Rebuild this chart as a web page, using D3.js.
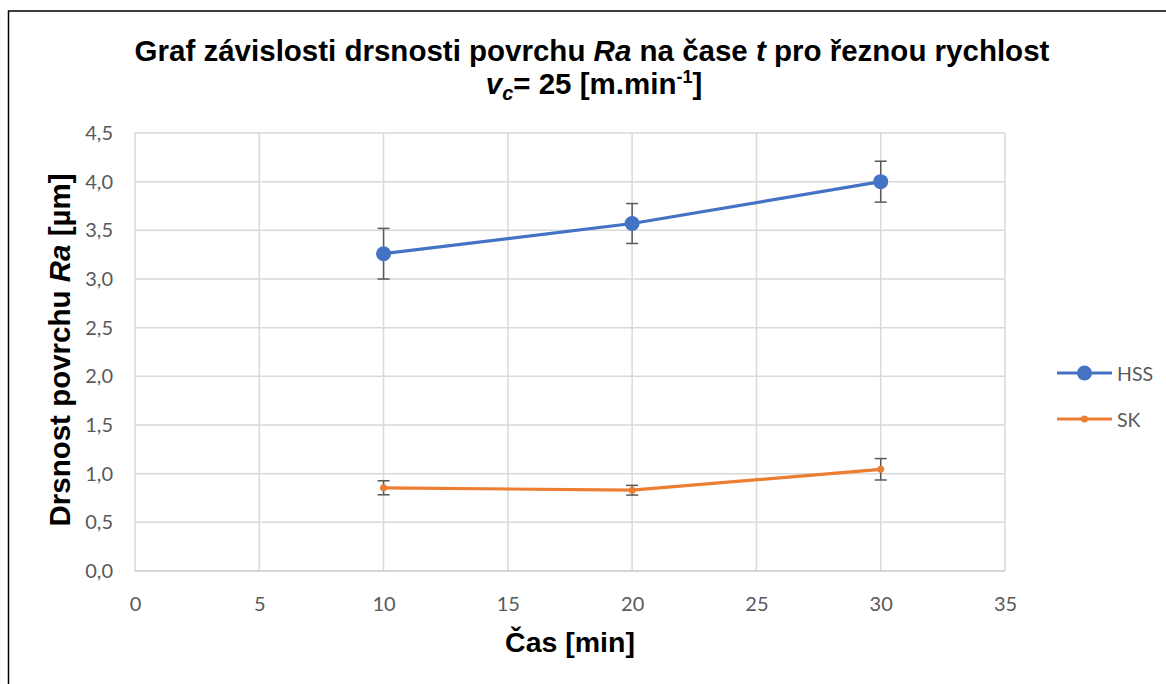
<!DOCTYPE html>
<html>
<head>
<meta charset="utf-8">
<script src="https://cdn.jsdelivr.net/npm/d3@7"></script>
<style>
  body { margin: 0; background: #fff; }
  svg { display: block; }
</style>
</head>
<body>
<div id="chart"></div>
<script>
// data
var times = [10, 20, 30]
var hss = [3.26, 3.57, 4.0]
var hssErr = [0.26, 0.205, 0.21]
var sk = [0.855, 0.83, 1.045]
var skErr = [0.072, 0.05, 0.11]
var xTicks = [0, 5, 10, 15, 20, 25, 30, 35]
var yTicks = [0, 0.5, 1, 1.5, 2, 2.5, 3, 3.5, 4, 4.5]

var W = 1166
var H = 684
var plot = { left: 135, right: 1005, top: 133, bottom: 571 }
var tickFont = 'Lato, "Open Sans", sans-serif'
var tFont = '"Liberation Sans", Arial, sans-serif'

var svg = d3.select('#chart').append('svg')
  .attr('width', W)
  .attr('height', H)

// chart frame (only top and left visible in window)
svg.append('rect')
  .attr('x', 8.5).attr('y', 11)
  .attr('width', W + 20).attr('height', H + 20)
  .attr('fill', 'none')
  .attr('stroke', '#000')
  .attr('stroke-width', 1.5)

var x = d3.scaleLinear().domain([0, 35]).range([plot.left, plot.right])
var y = d3.scaleLinear().domain([0, 4.5]).range([plot.bottom, plot.top])

var fmt = function (d) { return d3.format('.1f')(d).replace('.', ',') }

// gridlines
var grid = svg.append('g')
grid.selectAll('.vg').data(xTicks).enter().append('line')
  .attr('x1', d => x(d)).attr('x2', d => x(d))
  .attr('y1', plot.top).attr('y2', plot.bottom)
  .attr('stroke', '#d9d9d9').attr('stroke-width', 1.5)
grid.selectAll('.hg').data(yTicks).enter().append('line')
  .attr('x1', plot.left).attr('x2', plot.right)
  .attr('y1', d => y(d)).attr('y2', d => y(d))
  .attr('stroke', '#d9d9d9').attr('stroke-width', 1.5)

// axes (labels only)
var xAxis = svg.append('g')
  .attr('transform', 'translate(0,' + plot.bottom + ')')
  .call(d3.axisBottom(x).tickValues(xTicks).tickSize(0))
var yAxis = svg.append('g')
  .attr('transform', 'translate(' + plot.left + ',0)')
  .call(d3.axisLeft(y).tickValues(yTicks).tickFormat(fmt).tickSize(0).tickPadding(22))
;[xAxis, yAxis].forEach(function (a) {
  a.select('.domain').remove()
  a.selectAll('text')
    .attr('fill', '#595959')
    .style('font-family', tickFont)
    .style('font-size', '20px')
})
xAxis.selectAll('text').attr('y', 40).attr('dy', 0)
svg.append('line')
  .attr('x1', plot.left).attr('x2', plot.right)
  .attr('y1', plot.bottom).attr('y2', plot.bottom)
  .attr('stroke', '#d0d0d0').attr('stroke-width', 1.5)

// series
var series = [
  { name: 'HSS', vals: hss, err: hssErr, color: '#4472C4', r: 7.5 },
  { name: 'SK', vals: sk, err: skErr, color: '#ED7D31', r: 3.5 }
]
var line = d3.line().x(d => x(d[0])).y(d => y(d[1]))

series.forEach(function (s) {
  var pts = times.map((t, i) => [t, s.vals[i], s.err[i]])
  svg.append('path')
    .datum(pts)
    .attr('d', line)
    .attr('fill', 'none')
    .attr('stroke', s.color)
    .attr('stroke-width', 3.2)
  var eb = svg.append('g')
  pts.forEach(function (p) {
    var cx = x(p[0])
    eb.append('line')
      .attr('x1', cx).attr('x2', cx)
      .attr('y1', y(p[1] + p[2])).attr('y2', y(p[1] - p[2]))
      .attr('stroke', '#595959').attr('stroke-width', 1.5)
    ;[p[1] + p[2], p[1] - p[2]].forEach(function (v) {
      eb.append('line')
        .attr('x1', cx - 6).attr('x2', cx + 6)
        .attr('y1', y(v)).attr('y2', y(v))
        .attr('stroke', '#595959').attr('stroke-width', 1.5)
    })
  })
  svg.append('g').selectAll('circle').data(pts).enter().append('circle')
    .attr('cx', d => x(d[0])).attr('cy', d => y(d[1]))
    .attr('r', s.r)
    .attr('fill', s.color)
})

// legend
series.forEach(function (s, i) {
  var ly = 373 + i * 46
  svg.append('line')
    .attr('x1', 1057).attr('x2', 1112)
    .attr('y1', ly).attr('y2', ly)
    .attr('stroke', s.color).attr('stroke-width', 3.2)
  svg.append('circle')
    .attr('cx', 1084.5).attr('cy', ly).attr('r', s.r)
    .attr('fill', s.color)
  svg.append('text')
    .attr('x', 1117).attr('y', ly + 8)
    .attr('fill', '#595959')
    .style('font-family', tickFont)
    .style('font-size', '19.5px')
    .text(s.name)
})

// title
var t1 = svg.append('text')
  .attr('x', 592).attr('y', 61)
  .attr('text-anchor', 'middle')
  .style('font-family', tFont).style('font-weight', 'bold').style('font-size', '29.5px')
t1.append('tspan').text('Graf závislosti drsnosti povrchu ')
t1.append('tspan').style('font-style', 'italic').text('Ra')
t1.append('tspan').text(' na čase ')
t1.append('tspan').style('font-style', 'italic').text('t')
t1.append('tspan').text(' pro řeznou rychlost')
var t2 = svg.append('text')
  .attr('x', 594).attr('y', 94)
  .attr('text-anchor', 'middle')
  .style('font-family', tFont).style('font-weight', 'bold').style('font-size', '29.5px')
t2.append('tspan').style('font-style', 'italic').text('v')
t2.append('tspan').style('font-style', 'italic').style('font-size', '20px').attr('dy', 6).text('c')
t2.append('tspan').attr('dy', -6).text('= 25 [m.min')
t2.append('tspan').style('font-size', '18px').attr('dy', -11).text('-1')
t2.append('tspan').attr('dy', 11).text(']')

// axis titles
svg.append('text')
  .attr('x', 570).attr('y', 652)
  .attr('text-anchor', 'middle')
  .style('font-family', tFont).style('font-weight', 'bold').style('font-size', '28.5px')
  .text('Čas [min]')
var yt = svg.append('text')
  .attr('transform', 'translate(70,350) rotate(-90)')
  .attr('text-anchor', 'middle')
  .style('font-family', tFont).style('font-weight', 'bold').style('font-size', '29.5px')
yt.append('tspan').text('Drsnost povrchu ')
yt.append('tspan').style('font-style', 'italic').text('Ra')
yt.append('tspan').text(' [µm]')
</script>
</body>
</html>
